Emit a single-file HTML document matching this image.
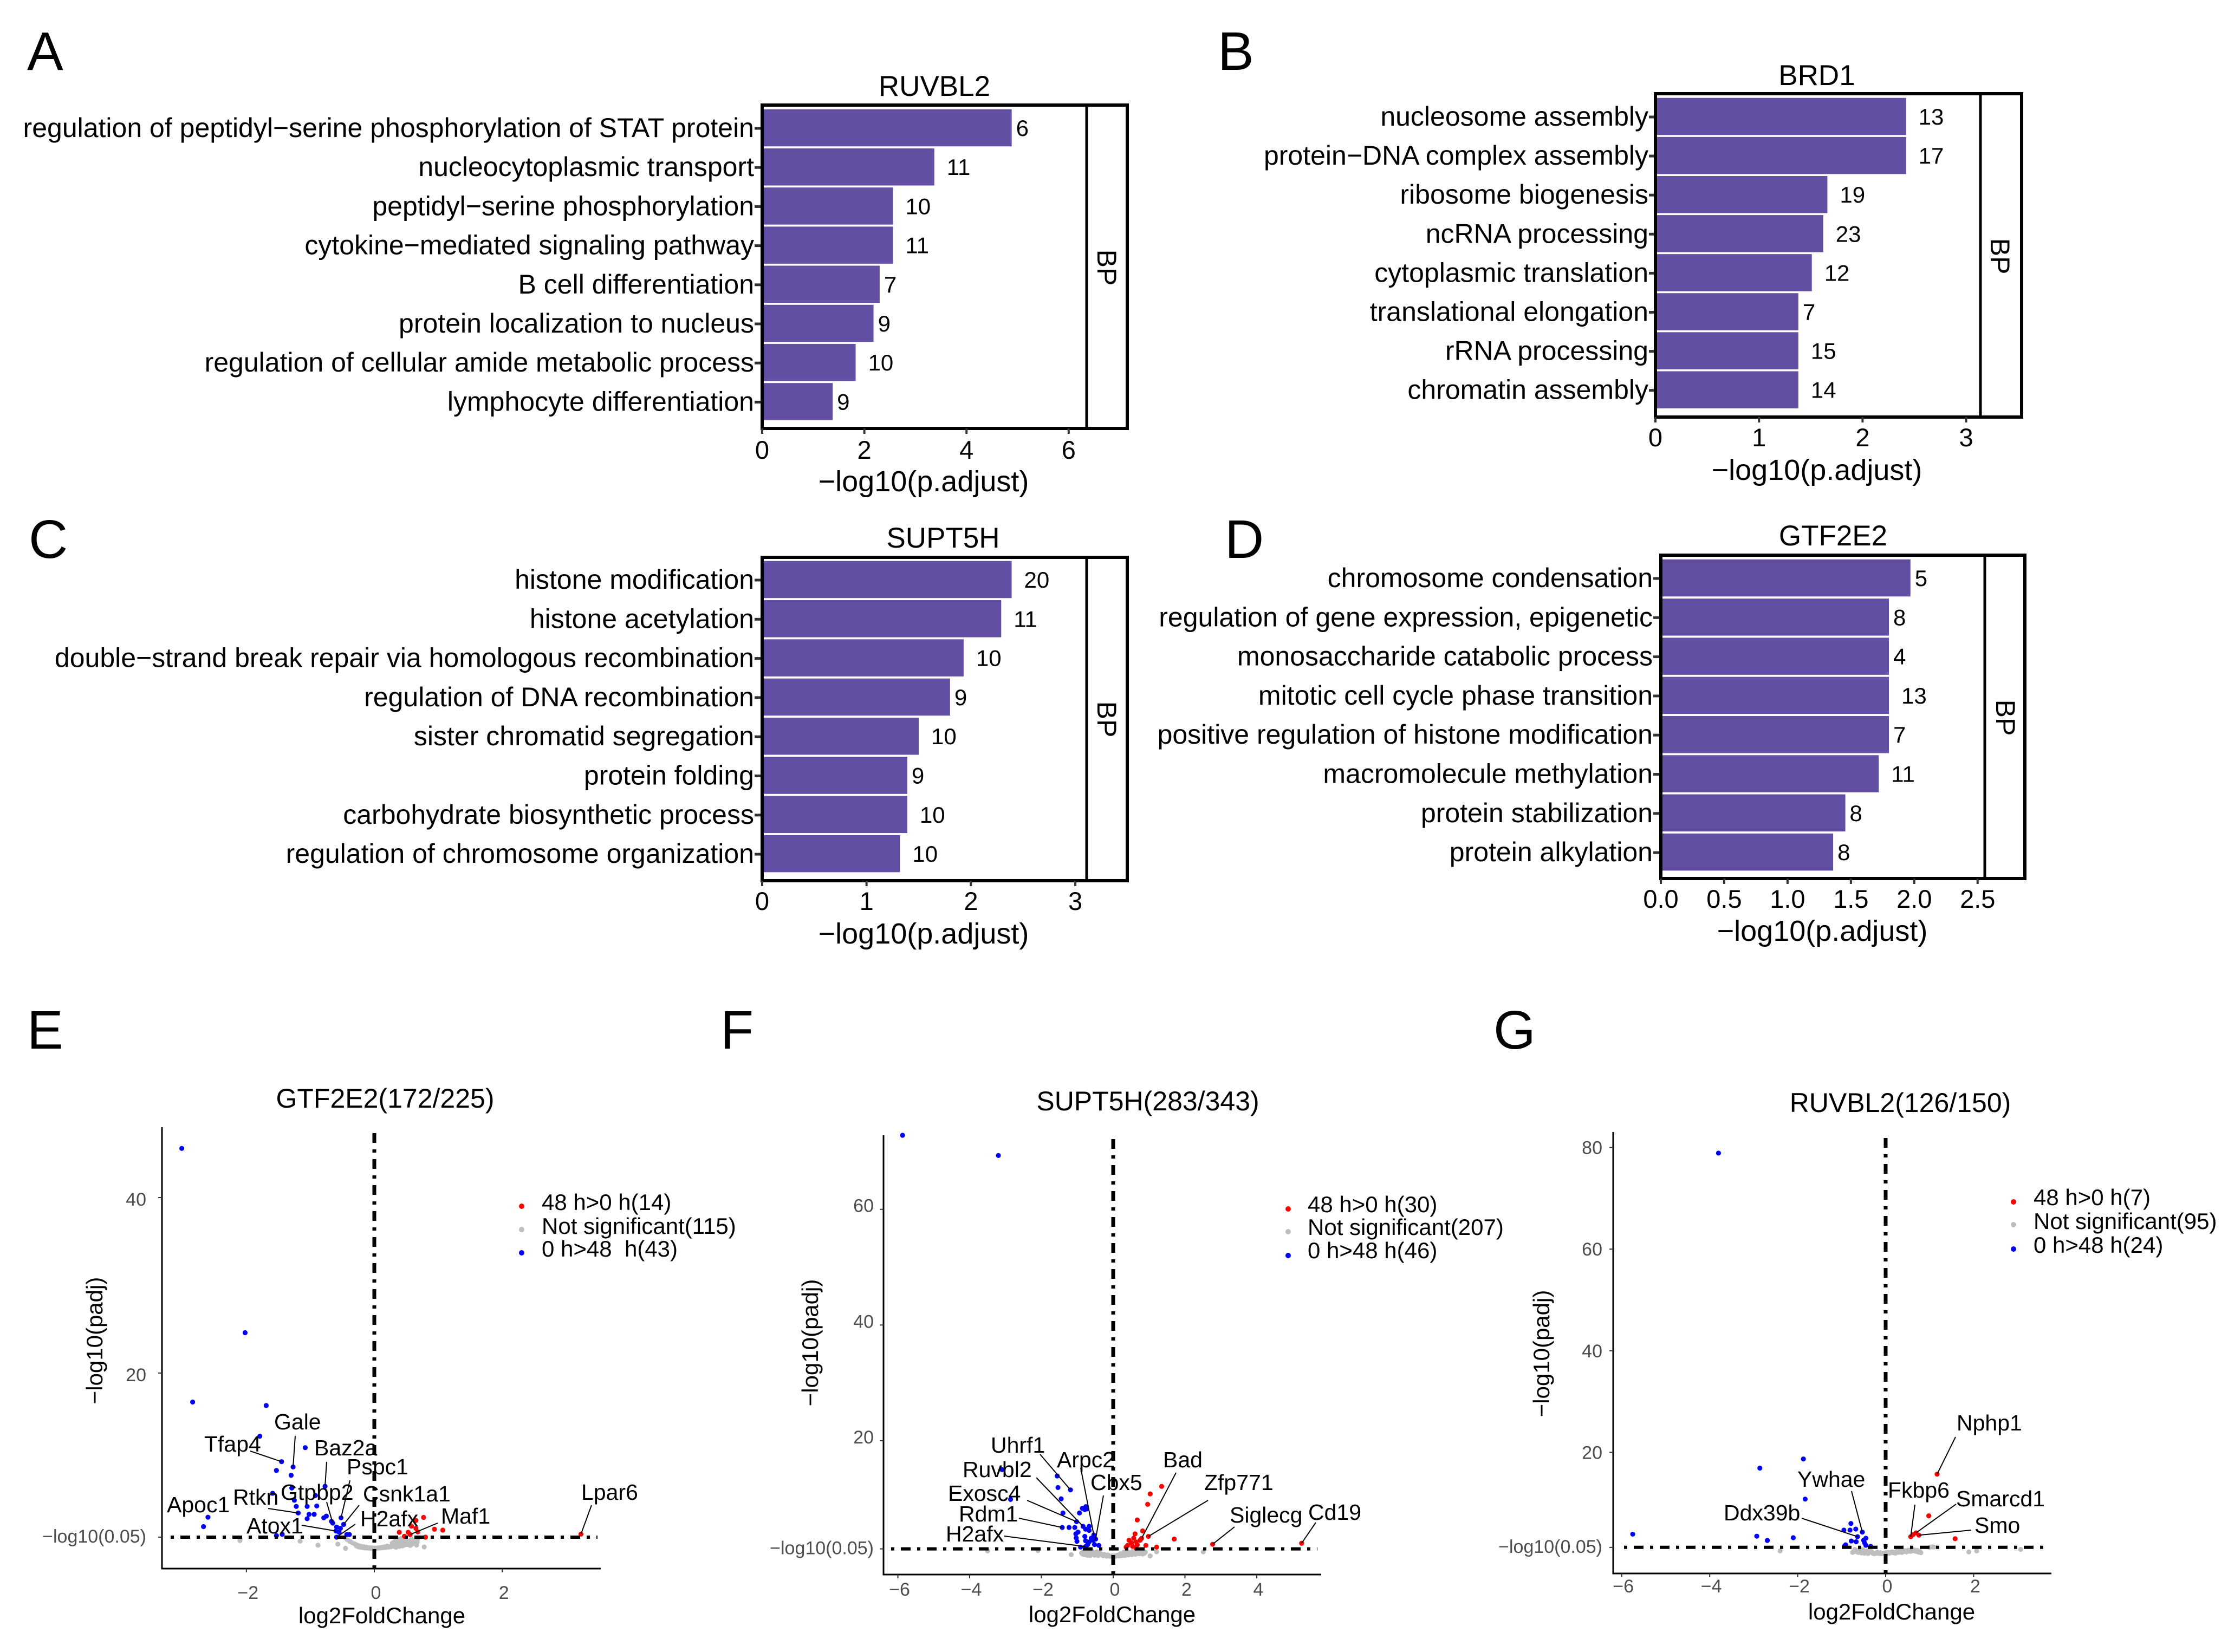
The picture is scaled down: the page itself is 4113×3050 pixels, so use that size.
<!DOCTYPE html>
<html lang="en">
<head>
<meta charset="utf-8">
<title>Enrichment bar charts and volcano plots</title>
<style>
html,body{margin:0;padding:0;background:#fff;}
svg{display:block;font-family:"Liberation Sans",Arial,sans-serif;}
text{fill:#000;}
.letter{font-size:100px;}
.bar-title{font-size:53px;text-anchor:middle;}
.bar-axis-title{font-size:54px;text-anchor:middle;}
.vol-title{font-size:50px;text-anchor:middle;}
.vol-axis-title{font-size:42px;text-anchor:middle;}
.legend{font-size:42px;white-space:pre;}
</style>
</head>
<body>
<svg id="figure" xmlns="http://www.w3.org/2000/svg" width="4113" height="3050" viewBox="0 0 4113 3050">
<rect width="4113" height="3050" fill="#fff"/>
<text class="letter" x="50" y="129">A</text>
<text class="letter" x="2248" y="129">B</text>
<text class="letter" x="53" y="1030">C</text>
<text class="letter" x="2261" y="1030">D</text>
<text class="letter" x="50" y="1936">E</text>
<text class="letter" x="1330" y="1936">F</text>
<text class="letter" x="2757" y="1936">G</text>

<text class="bar-title" x="1725" y="177">RUVBL2</text>
<text class="bar-title" x="3354" y="157">BRD1</text>
<text class="bar-title" x="1741" y="1011">SUPT5H</text>
<text class="bar-title" x="3384" y="1007">GTF2E2</text>

<text class="bar-axis-title" x="1705" y="907">−log10(p.adjust)</text>
<text class="bar-axis-title" x="3354" y="886">−log10(p.adjust)</text>
<text class="bar-axis-title" x="1705" y="1742">−log10(p.adjust)</text>
<text class="bar-axis-title" x="3364" y="1737">−log10(p.adjust)</text>

<text class="vol-title" x="711" y="2045">GTF2E2(172/225)</text>
<text class="vol-title" x="2119" y="2050">SUPT5H(283/343)</text>
<text class="vol-title" x="3508" y="2053">RUVBL2(126/150)</text>

<text class="vol-axis-title" x="705" y="2997">log2FoldChange</text>
<text class="vol-axis-title" x="2053" y="2995">log2FoldChange</text>
<text class="vol-axis-title" x="3492" y="2990">log2FoldChange</text>

<text class="vol-axis-title" transform="translate(189 2475) rotate(-90)">−log10(padj)</text>
<text class="vol-axis-title" transform="translate(1510 2479) rotate(-90)">−log10(padj)</text>
<text class="vol-axis-title" transform="translate(2860 2499) rotate(-90)">−log10(padj)</text>

<g>
<circle cx="963" cy="2227" r="5" fill="#ff0000"/>
<circle cx="963" cy="2270" r="5" fill="#bebebe"/>
<circle cx="963" cy="2313" r="5" fill="#0000ff"/>
<text class="legend" x="1000" y="2234">48 h&gt;0 h(14)</text>
<text class="legend" x="1000" y="2278">Not significant(115)</text>
<text class="legend" x="1000" y="2320">0 h&gt;48  h(43)</text>
</g>
<g>
<circle cx="2378" cy="2232" r="5" fill="#ff0000"/>
<circle cx="2378" cy="2274" r="5" fill="#bebebe"/>
<circle cx="2378" cy="2318" r="5" fill="#0000ff"/>
<text class="legend" x="2414" y="2238">48 h&gt;0 h(30)</text>
<text class="legend" x="2414" y="2280">Not significant(207)</text>
<text class="legend" x="2414" y="2323">0 h&gt;48 h(46)</text>
</g>
<g>
<circle cx="3717" cy="2219" r="5" fill="#ff0000"/>
<circle cx="3717" cy="2261" r="5" fill="#bebebe"/>
<circle cx="3717" cy="2306" r="5" fill="#0000ff"/>
<text class="legend" x="3754" y="2225">48 h&gt;0 h(7)</text>
<text class="legend" x="3754" y="2269">Not significant(95)</text>
<text class="legend" x="3754" y="2313">0 h&gt;48 h(24)</text>
</g>
</svg>
<script>
/* ---------- Panel A: RUVBL2 ---------- */
const ruvbl2Terms = ["regulation of peptidyl−serine phosphorylation of STAT protein","nucleocytoplasmic transport","peptidyl−serine phosphorylation","cytokine−mediated signaling pathway","B cell differentiation","protein localization to nucleus","regulation of cellular amide metabolic process","lymphocyte differentiation"];
const ruvbl2Values = [4.885,3.37,2.56,2.56,2.30,2.18,1.83,1.38];
const ruvbl2Counts = [6,11,10,11,7,9,10,9];
const ruvbl2Ticks = [0,2,4,6];
/* ---------- Panel B: BRD1 ---------- */
const brd1Terms = ["nucleosome assembly","protein−DNA complex assembly","ribosome biogenesis","ncRNA processing","cytoplasmic translation","translational elongation","rRNA processing","chromatin assembly"];
const brd1Values = [2.42,2.42,1.66,1.62,1.51,1.38,1.38,1.38];
const brd1Counts = [13,17,19,23,12,7,15,14];
const brd1Ticks = [0,1,2,3];
/* ---------- Panel C: SUPT5H ---------- */
const supt5hTerms = ["histone modification","histone acetylation","double−strand break repair via homologous recombination","regulation of DNA recombination","sister chromatid segregation","protein folding","carbohydrate biosynthetic process","regulation of chromosome organization"];
const supt5hValues = [2.39,2.29,1.93,1.80,1.50,1.39,1.39,1.32];
const supt5hCounts = [20,11,10,9,10,9,10,10];
const supt5hTicks = [0,1,2,3];
/* ---------- Panel D: GTF2E2 ---------- */
const gtf2e2Terms = ["chromosome condensation","regulation of gene expression, epigenetic","monosaccharide catabolic process","mitotic cell cycle phase transition","positive regulation of histone modification","macromolecule methylation","protein stabilization","protein alkylation"];
const gtf2e2Values = [1.97,1.80,1.80,1.80,1.80,1.72,1.456,1.36];
const gtf2e2Counts = [5,8,4,13,7,11,8,8];
const gtf2e2Ticks = [0,0.5,1,1.5,2,2.5];
const gtf2e2TickLabels = ["0.0","0.5","1.0","1.5","2.0","2.5"];

/* ---------- Panel E volcano ---------- */
const eUpFc = [0.77,0.65,0.58,0.65,0.68,0.94,1.07,0.39,0.53,0.47,0.80];
const eUpP = [3.55,3.2,2.55,2.3,1.9,2.2,2.1,1.85,1.85,1.4,1.3];
const eDownFc = [-3.01,-2.02,-2.84,-1.69,-1.79,-1.08,-1.53,-1.30,-1.29,-1.59,-0.92,-1.25,-1.22,-1.05,-0.90,-1.02,-0.94,-1.05,-0.79,-0.75,-0.67,-0.53,-0.59,-0.55,-0.43,-0.39,-2.67,-1.44,-1.53];
const eDownP = [45.6,24.6,16.7,16.3,12.8,11.5,8.9,8.35,6.9,6.3,6.05,5.5,4.8,4.8,4.85,3.9,3.9,3.4,3.5,3.7,3.1,2.3,2.45,1.85,1.6,1.6,2.5,1.62,1.47];
const eNsFc = [-2.10,-1.16,-0.88,-0.57,-0.45,0.78,0.67,-0.45,-0.42,-0.38,-0.34,-0.30,-0.27,-0.23,-0.20,-0.16,-0.12,-0.08,-0.04,0,0.04,0.08,0.12,0.16,0.20,0.24,0.27,0.30,0.32,0.35,0.38,0.40,0.43,0.46,0.49,0.52,0.55,0.58,0.60,0.62,0.30,0.36,0.42,-0.28,-0.25,-0.22,-0.18,-0.14,-0.10,-0.06,-0.02,0.02,0.06,0.10,0.14,0.18,0.22,0.26,0.28,0.31,0.33,0.34,0.37,0.39,0.41,0.44,0.45,0.47,0.50,0.51,0.54,0.56,0.57,0.59,0.63,0.66,0.68];
const eNsP = [0.92,0.85,0.38,0.5,0.03,0.18,0.75,1.2,1.0,0.8,0.65,0.5,0.4,0.3,0.25,0.2,0.15,0.1,0.08,0.05,0.06,0.1,0.14,0.2,0.28,0.2,0.3,0.45,0.6,0.35,0.75,0.5,0.9,0.6,1.0,0.7,0.85,1.05,0.75,0.95,0.7,1.1,1.15,0.3,0.2,0.15,0.1,0.07,0.05,0.03,0.02,0.03,0.05,0.07,0.1,0.12,0.16,0.2,0.6,0.25,0.85,0.15,0.5,0.25,0.95,0.3,0.75,0.4,0.85,0.45,0.55,0.35,0.7,0.5,0.6,0.4,1.1];
const eGenes = ["Gale","Tfap4","Baz2a","Pspc1","Gtpbp2","Rtkn","Csnk1a1","Apoc1","H2afx","Maf1","Atox1","Lpar6"];
const eGeneFc = [-1.27,-1.45,-0.77,-0.52,-0.65,-1.19,-0.48,-2.60,-0.59,0.56,-0.60,3.23];
const eGeneP = [9.3,9.9,7.1,3.5,2.9,4.05,2.75,3.57,1.3,1.6,2.0,1.64];
const eGeneDir = ["down","down","down","down","down","down","down","down","down","up","down","up"];
const eYTicks = [40,20];

/* ---------- Panel F volcano ---------- */
const fUpFc = [1.35,1.03,0.96,0.67,0.82,0.61,1.70,0.75,0.91,1.21,0.44,0.57,0.51,0.64,0.40,0.67,0.54,0.64,0.36];
const fUpP = [12.1,10.8,9.0,6.3,4.4,3.9,3.0,2.8,1.9,1.6,2.8,3.15,2.35,2.5,1.9,2.0,1.75,1.42,1.6];
const fDownFc = [-5.87,-3.2,-3.10,-1.56,-1.54,-1.45,-2.86,-1.40,-0.94,-0.86,-0.76,-0.79,-0.74,-1.23,-1.07,-0.77,-0.67,-0.67,-0.98,-1.04,-1.03,-0.79,-0.61,-1.01,-0.77,-0.67,-0.56,-0.52,-0.40,-0.71,-0.91];
const fDownP = [72.8,69.3,15.0,13.9,11.9,9.95,9.85,7.5,7.5,8.3,8.6,8.1,8.2,5.0,5.0,4.7,5.2,4.5,4.2,3.9,3.2,3.45,3.15,2.6,2.7,2.5,2.8,2.05,1.9,2.05,1.6];
const fNsFc = [-3.5,-2.1,-1.17,2.51,1.03,1.21,-0.85,-0.85,-0.78,-0.7,-0.7,-0.62,-0.55,-0.5,-0.45,-0.4,-0.35,-0.3,-0.25,-0.2,-0.15,-0.1,-0.05,0,0.05,0.1,0.15,0.2,0.25,0.3,0.35,0.4,0.45,0.5,0.55,0.6,0.65,0.7,0.75,0.8,0.85,-0.6,0.3,0.55,-0.88,-0.82,-0.8,-0.75,-0.72,-0.66,-0.64,-0.58,-0.52,-0.48,-0.42,-0.38,-0.32,-0.28,-0.22,-0.18,-0.12,-0.08,-0.03,0.02,0.07,0.12,0.17,0.22,0.27,0.32,0.37,0.42,0.47,0.52,0.57,0.62,0.67,0.72,0.77,0.82,0.87,0.9,0.4,0.2];
const fNsP = [0.95,1.0,0.3,0.8,0.08,0.8,0.75,0.4,0.6,0.85,0.5,0.3,0.7,0.4,0.8,0.3,0.45,0.2,0.35,0.1,0.25,0.05,0.05,0.02,0.1,0.12,0.2,0.25,0.15,0.4,0.3,0.55,0.35,0.6,0.45,0.75,0.5,0.8,0.6,0.65,0.9,0.95,0.75,0.95,0.6,0.9,0.3,0.45,0.2,0.65,0.15,0.45,0.2,0.6,0.15,0.6,0.35,0.1,0.2,0.05,0.12,0.02,0.1,0.05,0.02,0.22,0.08,0.12,0.3,0.15,0.5,0.25,0.65,0.3,0.7,0.35,0.7,0.45,0.85,0.4,0.55,0.75,0.8,0.45];
const fGenes = ["Uhrf1","Ruvbl2","Exosc4","Rdm1","H2afx","Arpc2","Cbx5","Bad","Zfp771","Siglecg","Cd19"];
const fGeneFc = [-1.19,-0.84,-1.02,-1.42,-0.77,-0.54,-0.49,0.79,0.98,2.77,5.25];
const fGeneP = [11.5,5.2,6.0,5.0,1.7,3.7,3.0,3.1,3.45,2.1,2.27];
const fGeneDir = ["down","down","down","down","down","down","down","up","up","up","up"];
const fXTicks = [-6,-4,-2,0,2,4];
const fYTicks = [60,40,20];

/* ---------- Panel G volcano ---------- */
const gUpFc = [0.98,1.58,0.62];
const gUpP = [7.5,3.0,3.8];
const gDownFc = [-3.80,-5.75,-1.87,-2.86,-1.83,-0.79,-2.93,-2.69,-2.10,-0.95,-0.81,-0.68,-0.45,-0.50,-0.78,-0.67,-0.48,-0.45,-0.34,-0.91,-0.94];
const gDownP = [78.9,3.9,18.7,16.9,10.8,6.0,3.5,2.65,3.2,4.7,4.7,4.9,3.1,2.7,2.55,2.4,2.2,1.7,1.5,1.8,1.5];
const gNsFc = [-2.4,1.89,2.07,3.07,1.06,-0.75,-0.7,-0.65,-0.6,-0.55,-0.5,-0.45,-0.4,-0.35,-0.3,-0.25,-0.2,-0.15,-0.1,-0.05,0,0.05,0.1,0.15,0.2,0.25,0.3,0.35,0.4,0.45,0.5,0.55,0.6,0.65,0.7,0.75,0.8,1.0,1.1,-0.72,-0.68,-0.62,-0.58,-0.52,-0.48,-0.42,-0.38,-0.32,-0.28,-0.22,-0.18,-0.12,-0.08,-0.03,0.02,0.07,0.12,0.17,0.22,0.27,0.32,0.37,0.42,0.47,0.52,0.57,0.62,0.67,0.72,0.78];
const gNsP = [0.6,0.4,0.6,0.9,1.4,0.3,0.9,0.4,0.7,0.2,0.6,0.35,0.1,0.5,0.2,0.05,0.3,0.1,0.05,0.15,0.2,0.3,0.2,0.4,0.3,0.5,0.35,0.6,0.45,0.65,0.5,0.7,0.6,0.8,0.5,0.35,0.25,1.3,1.35,0.5,0.75,0.3,0.55,0.85,0.15,0.6,0.3,0.45,0.1,0.15,0.3,0.25,0.1,0.05,0.1,0.15,0.35,0.25,0.15,0.3,0.55,0.3,0.6,0.4,0.75,0.5,0.75,0.55,0.7,0.45];
const gGenes = ["Nphp1","Ywhae","Ddx39b","Fkbp6","Smarcd1","Smo"];
const gGeneFc = [1.17,-0.53,-0.64,0.57,0.69,0.755];
const gGeneP = [15.7,4.3,3.4,3.4,4.15,3.7];
const gGeneDir = ["up","down","down","up","up","up"];
const gXTicks = [-6,-4,-2,0,2];
const gYTicks = [80,60,40,20];

const eXTicks = [-2,0,2];
const SVGNS = "http://www.w3.org/2000/svg";
const figure = document.getElementById("figure");
const dirColor = {up:"#ff0000",down:"#0000ff",ns:"#bebebe"};

function svgEl(tag, parent, attrs, content){
  const el = document.createElementNS(SVGNS, tag);
  for (const k in attrs) el.setAttribute(k, attrs[k]);
  if (content !== undefined) el.textContent = content;
  parent.appendChild(el);
  return el;
}
function signed(v){ return v < 0 ? "−" + Math.abs(v) : String(v); }

function drawBarPanel(c){
  const g = svgEl("g", figure, {});
  
  
  const xScale = v => c.left + v * c.unit;
  const yBand = i => c.firstBand + i * c.step;

  c.values.forEach((v, i) => {
    const bar = svgEl("rect", g, {x:c.left, y:yBand(i)-c.barH/2, width:xScale(v)-c.left, height:c.barH, fill:"#624fa3"});
    
    

    const tick = svgEl("line", g, {x1:c.labelRight+1, x2:c.left, y1:yBand(i)+1, y2:yBand(i)+1, stroke:"#333", "stroke-width":5});
    
    

    const term = svgEl("text", g, {x:c.labelRight, y:yBand(i)+17, "text-anchor":"end", "font-size":50}, c.terms[i]);
    
    

    const count = String(c.counts[i]);
    const val = svgEl("text", g, {x:xScale(v) + (count.length === 1 ? 8 : 23), y:yBand(i)+15, "font-size":42}, count);
    
    
  });

  const box = svgEl("rect", g, {x:c.left, y:c.top, width:c.right-c.left, height:c.bottom-c.top, fill:"none", stroke:"#000", "stroke-width":6});
  
  

  const strip = svgEl("line", g, {x1:c.strip, x2:c.strip, y1:c.top, y2:c.bottom, stroke:"#000", "stroke-width":5});
  
  

  const bp = svgEl("text", g, {transform:"translate(" + (c.stripLabelX-17) + " " + c.stripLabelY + ") rotate(90)", "text-anchor":"middle", "font-size":50}, "BP");
  
  

  c.ticks.forEach((t, i) => {
    const tk = svgEl("line", g, {x1:xScale(t), x2:xScale(t), y1:c.bottom, y2:c.bottom+10, stroke:"#333", "stroke-width":4});
    
    

    const lb = svgEl("text", g, {x:xScale(t), y:c.tickBase, "text-anchor":"middle", "font-size":47}, c.tickLabels ? c.tickLabels[i] : String(t));
    
    
  });
}

function drawVolcano(c){
  const g = svgEl("g", figure, {});
  
  
  const xScale = v => c.zeroX + v * c.unitX;
  const yScale = v => c.zeroY - v * c.unitY;
  const cutoff = 1.3;

  const plotSeries = (fc, p, dir) => {
    fc.forEach((v, i) => {
      const dot = svgEl("circle", g, {cx:xScale(v), cy:yScale(p[i]), r:4.6, fill:dirColor[dir]});
      
      
    });
  };
  plotSeries(c.nsFc, c.nsP, "ns");
  plotSeries(c.upFc, c.upP, "up");
  plotSeries(c.downFc, c.downP, "down");
  c.genes.forEach((name, i) => {
    const dot = svgEl("circle", g, {cx:xScale(c.geneFc[i]), cy:yScale(c.geneP[i]), r:4.6, fill:dirColor[c.geneDir[i]]});
    
    
  });

  const hl = svgEl("line", g, {x1:c.hStart, x2:c.hEnd, y1:yScale(cutoff), y2:yScale(cutoff), stroke:"#000", "stroke-width":6, "stroke-dasharray":"6 12 18 12"});
  
  

  const vl = svgEl("line", g, {x1:c.zeroX, x2:c.zeroX, y1:c.bottom, y2:c.vTop, stroke:"#000", "stroke-width":7, "stroke-dasharray":"6 12 18 12"});
  
  

  const yAxis = svgEl("line", g, {x1:c.left, x2:c.left, y1:c.top, y2:c.bottom+1.5, stroke:"#000", "stroke-width":3});
  
  

  const xAxis = svgEl("line", g, {x1:c.left, x2:c.right, y1:c.bottom, y2:c.bottom, stroke:"#000", "stroke-width":3});
  
  

  c.xTicks.forEach(t => {
    const tk = svgEl("line", g, {x1:xScale(t), x2:xScale(t), y1:c.bottom, y2:c.bottom+7, stroke:"#333", "stroke-width":2});
    
    

    const lb = svgEl("text", g, {x:xScale(t)+3, y:c.xTickBase, "text-anchor":"middle", "font-size":34}, signed(t));
    lb.style.fill = "#4d4d4d";
    
    
  });

  c.yTicks.forEach(t => {
    const tk = svgEl("line", g, {x1:c.left-7, x2:c.left, y1:yScale(t), y2:yScale(t), stroke:"#333", "stroke-width":2});
    
    

    const lb = svgEl("text", g, {x:c.yLabelRight, y:yScale(t)+11+c.yLabelDy, "text-anchor":"end", "font-size":34}, String(t));
    lb.style.fill = "#4d4d4d";
    
    
  });

  const cutTick = svgEl("line", g, {x1:c.left-7, x2:c.left, y1:yScale(cutoff), y2:yScale(cutoff), stroke:"#333", "stroke-width":2});
  
  

  const cutLabel = svgEl("text", g, {x:c.yLabelRight, y:yScale(cutoff)+10, "text-anchor":"end", "font-size":34}, "−log10(0.05)");
  cutLabel.style.fill = "#4d4d4d";
  
  

  c.genes.forEach((name, i) => {
    const place = c.repel[i];
    if (place[2] !== null) {
      const conn = svgEl("line", g, {x1:place[2], y1:place[3], x2:xScale(c.geneFc[i]), y2:yScale(c.geneP[i]), stroke:"#000", "stroke-width":2});
      
      
    }
    const lbl = svgEl("text", g, {x:place[0], y:place[1], "font-size":41}, name);
    
    
  });
}

drawBarPanel({id:"panel-a",terms:ruvbl2Terms,values:ruvbl2Values,counts:ruvbl2Counts,ticks:ruvbl2Ticks,
  left:1407,right:2081,top:194,bottom:791,strip:2006,unit:94.3,firstBand:236,step:72.2,barH:68.5,labelRight:1392,tickBase:847,stripLabelX:2043,stripLabelY:494});
drawBarPanel({id:"panel-b",terms:brd1Terms,values:brd1Values,counts:brd1Counts,ticks:brd1Ticks,
  left:3056,right:3732,top:173,bottom:770,strip:3656,unit:191.2,firstBand:215,step:72.1,barH:68.5,labelRight:3043,tickBase:824,stripLabelX:3692,stripLabelY:473});
drawBarPanel({id:"panel-c",terms:supt5hTerms,values:supt5hValues,counts:supt5hCounts,ticks:supt5hTicks,
  left:1407,right:2081,top:1029,bottom:1626,strip:2006,unit:192.7,firstBand:1070,step:72.3,barH:68.5,labelRight:1392,tickBase:1680,stripLabelX:2043,stripLabelY:1328});
drawBarPanel({id:"panel-d",terms:gtf2e2Terms,values:gtf2e2Values,counts:gtf2e2Counts,ticks:gtf2e2Ticks,tickLabels:gtf2e2TickLabels,
  left:3066,right:3738,top:1025,bottom:1622,strip:3664,unit:233.9,firstBand:1067,step:72.3,barH:68.5,labelRight:3051,tickBase:1676,stripLabelX:3702,stripLabelY:1325});

drawVolcano({id:"panel-e",upFc:eUpFc,upP:eUpP,downFc:eDownFc,downP:eDownP,nsFc:eNsFc,nsP:eNsP,
  genes:eGenes,geneFc:eGeneFc,geneP:eGeneP,geneDir:eGeneDir,xTicks:eXTicks,yTicks:eYTicks,
  zeroX:691,unitX:118.1,zeroY:2859,unitY:16.2,left:299,right:1109,top:2081,bottom:2896,vTop:2088,hStart:315,hEnd:1103,xTickBase:2952,yLabelRight:270,yLabelDy:4,
  repel:[[506,2639,545,2651],[377,2680,462,2679],[580,2687,603,2699],[640,2722,646,2733],[518,2769,603,2773],[430,2778,495,2785],[670,2772,663,2779],[308,2792,null,null],[665,2818,656,2814],[814,2813,808,2812],[455,2831,557,2816],[1073,2769,1092,2779]]});
drawVolcano({id:"panel-f",upFc:fUpFc,upP:fUpP,downFc:fDownFc,downP:fDownP,nsFc:fNsFc,nsP:fNsP,
  genes:fGenes,geneFc:fGeneFc,geneP:fGeneP,geneDir:fGeneDir,xTicks:fXTicks,yTicks:fYTicks,
  zeroX:2055,unitX:66.25,zeroY:2873.5,unitY:10.68,left:1631,right:2439,top:2096,bottom:2907,vTop:2103,hStart:1645,hEnd:2432,xTickBase:2946,yLabelRight:1613,yLabelDy:-6,
  repel:[[1829,2682,1920,2685],[1777,2727,1913,2728],[1750,2771,1896,2770],[1770,2809,1881,2803],[1746,2846,1854,2836],[1951,2709,1995,2710],[2013,2751,2037,2761],[2147,2709,2171,2719],[2223,2751,2230,2770],[2270,2811,2279,2819],[2415,2806,2429,2811]]});
drawVolcano({id:"panel-g",upFc:gUpFc,upP:gUpP,downFc:gDownFc,downP:gDownP,nsFc:gNsFc,nsP:gNsP,
  genes:gGenes,geneFc:gGeneFc,geneP:gGeneP,geneDir:gGeneDir,xTicks:gXTicks,yTicks:gYTicks,
  zeroX:3481,unitX:81.2,zeroY:2869,unitY:9.38,left:2978,right:3787,top:2090,bottom:2905,vTop:2099,hStart:2998,hEnd:3782,xTickBase:2940,yLabelRight:2958,yLabelDy:1,
  repel:[[3612,2641,3610,2653],[3318,2745,3418,2753],[3182,2807,3326,2803],[3485,2765,3535,2778],[3611,2781,3611,2777],[3645,2830,3639,2825]]});
</script>
</body>
</html>
